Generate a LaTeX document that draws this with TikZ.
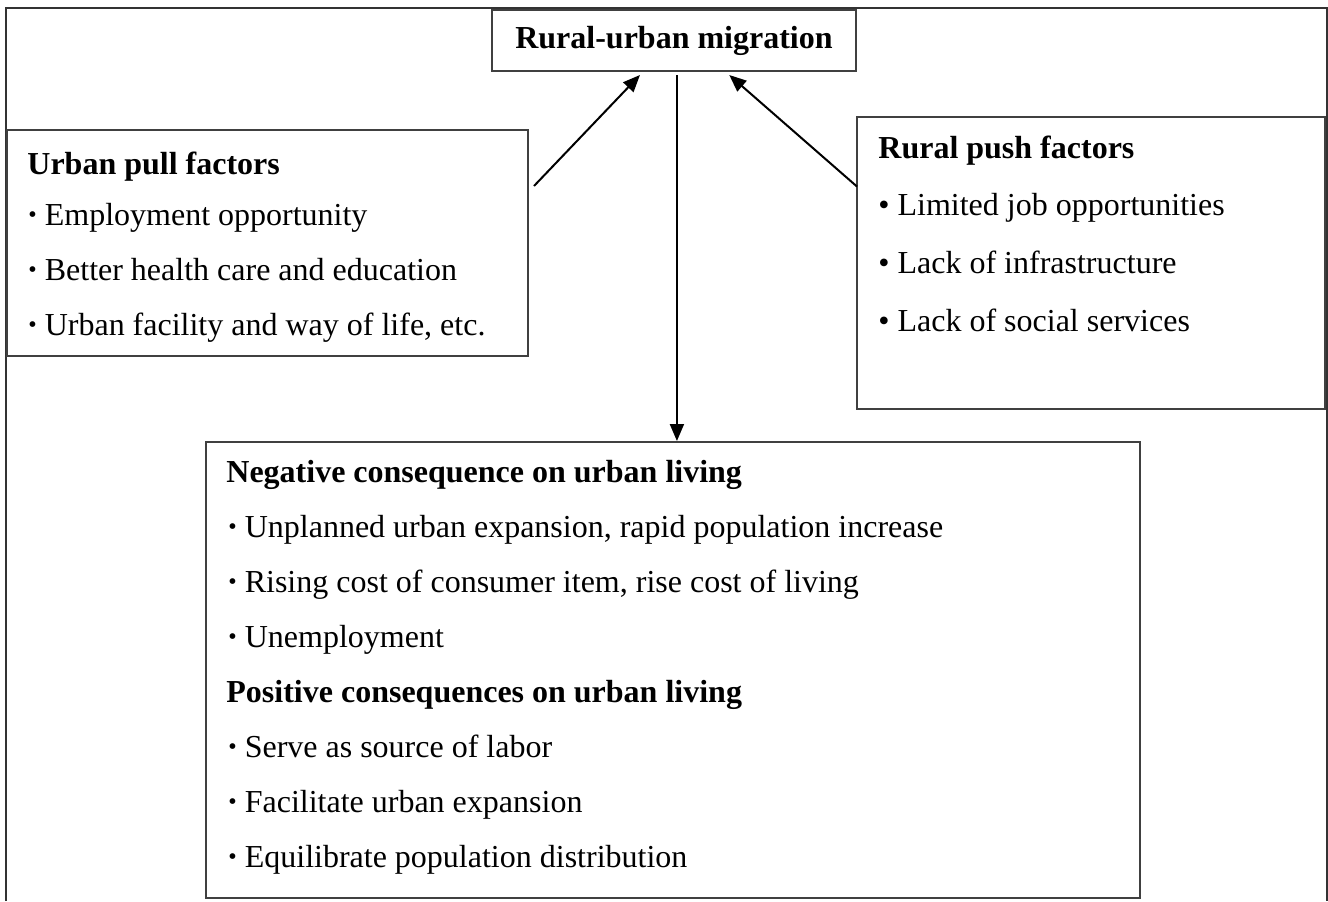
\documentclass[tikz,border=0pt]{standalone}
\usepackage{fontspec}
\setmainfont{Liberation Serif}
\usetikzlibrary{calc,arrows.meta}
\newcommand\smallbul{\raisebox{0.08em}{\scalebox{0.75}{\textbullet}}}
\begin{document}
\begin{tikzpicture}[x=0.5pt,y=-0.5pt,
  box/.style={draw=black!75, line width=1pt, rectangle, inner sep=0pt},
  txt/.style={anchor=base west, inner sep=0pt, font=\fontsize{16}{18}\selectfont},
  ttl/.style={anchor=base west, inner sep=0pt, font=\fontsize{16}{18}\selectfont\bfseries},
  arr/.style={line width=1pt, black, -{Triangle[length=8.5pt,width=7pt]}}]
\useasboundingbox (0,0) rectangle (1328,901);
% outer frame
\coordinate (fbl) at (6,901);
\coordinate (ftl) at (6,8);
\coordinate (ftr) at (1327,8);
\coordinate (fbr) at (1327,901);
\draw[line width=1pt, black!80] (fbl) -- (ftl) -- (ftr) -- (fbr);
% boxes
\node[box, minimum width=182pt, minimum height=30.5pt,
      font=\fontsize{16}{18}\selectfont\bfseries] (mig) at (674,40.5) {Rural-urban migration};
\node[box, minimum width=260.5pt, minimum height=113pt] (pull) at (267.5,243) {};
\node[box, minimum width=234pt, minimum height=146pt] (push) at (1091,263) {};
\node[box, minimum width=467pt, minimum height=228pt] (cons) at (673,670) {};
% left box text
\node[ttl] (p0) at (27,174) {Urban pull factors};
\node[txt] (p1) at (28,225) {\smallbul\ Employment opportunity};
\node[txt] (p2) at (28,280) {\smallbul\ Better health care and education};
\node[txt] (p3) at (28,335) {\smallbul\ Urban facility and way of life, etc.};
% right box text
\node[ttl] (r0) at (878,158) {Rural push factors};
\node[txt] (r1) at (878,215) {\textbullet\ Limited job opportunities};
\node[txt] (r2) at (878,273) {\textbullet\ Lack of infrastructure};
\node[txt] (r3) at (878,331) {\textbullet\ Lack of social services};
% bottom box text
\node[ttl] (c0) at (226,482) {Negative consequence on urban living};
\node[txt] (c1) at (228,537) {\smallbul\ Unplanned urban expansion, rapid population increase};
\node[txt] (c2) at (228,592) {\smallbul\ Rising cost of consumer item, rise cost of living};
\node[txt] (c3) at (228,647) {\smallbul\ Unemployment};
\node[ttl] (c4) at (226,702) {Positive consequences on urban living};
\node[txt] (c5) at (228,757) {\smallbul\ Serve as source of labor};
\node[txt] (c6) at (228,812) {\smallbul\ Facilitate urban expansion};
\node[txt] (c7) at (228,867) {\smallbul\ Equilibrate population distribution};
% connectors
\coordinate (a1s) at ($(pull.north east)!0.25!(pull.south east)+(5,0)$);
\coordinate (a1e) at ($(mig.south west)!0.407!(mig.south east)+(0,3)$);
\coordinate (a2s) at ($(push.north west)!0.24!(push.south west)+(1,0)$);
\coordinate (a2e) at ($(mig.south west)!0.651!(mig.south east)+(0,3)$);
\coordinate (a3s) at ($(mig.south west)!0.508!(mig.south east)+(0,3)$);
\draw[arr] (a1s) -- (a1e);
\draw[arr] (a2s) -- (a2e);
\draw[arr] (a3s) -- (a3s |- cons.north);
\end{tikzpicture}
\end{document}
